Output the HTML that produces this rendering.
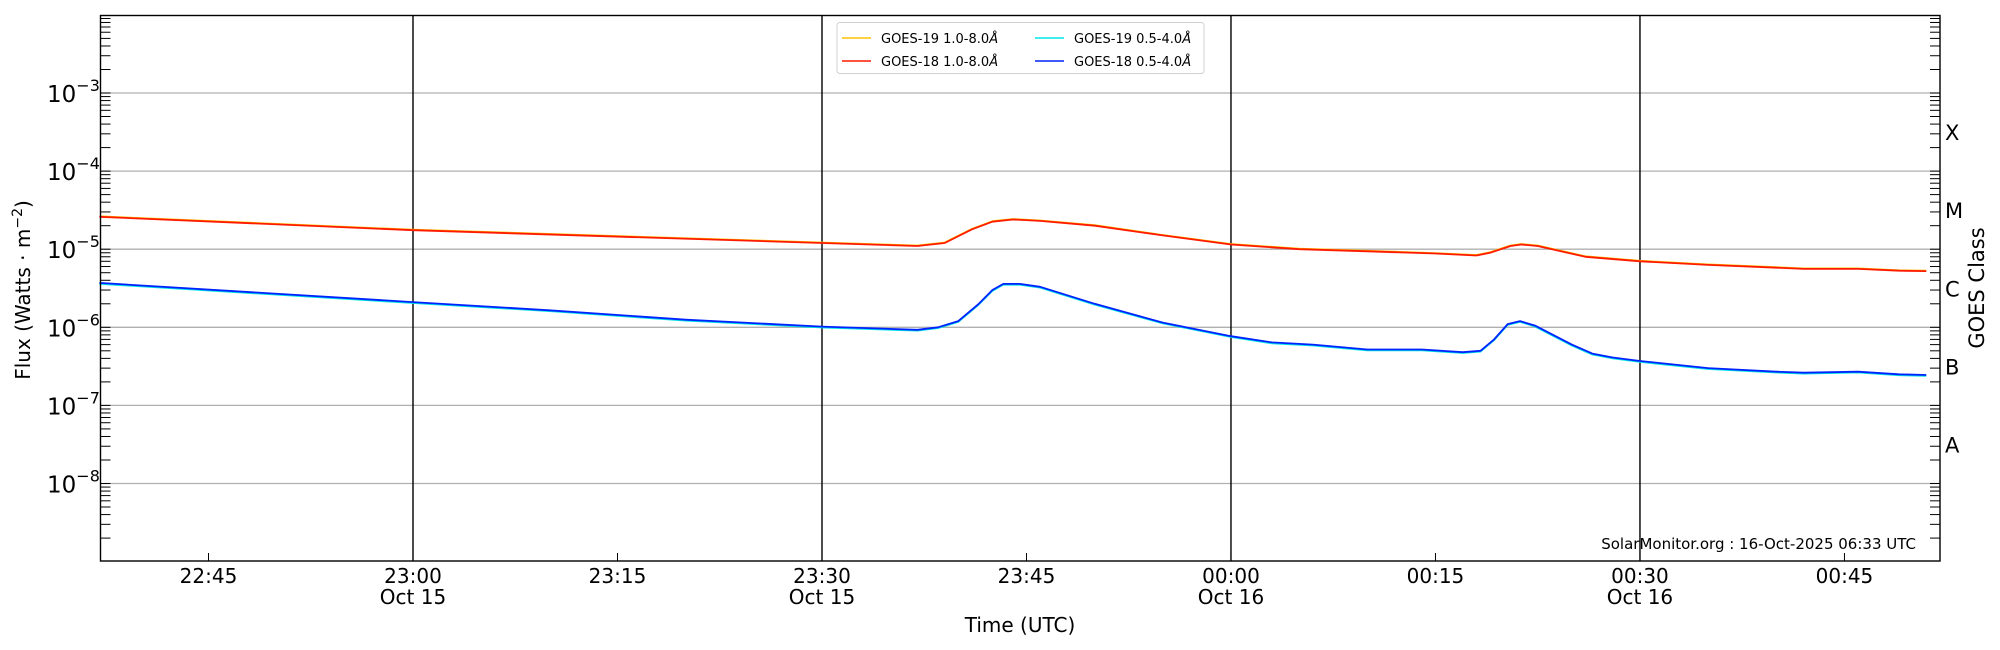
<!DOCTYPE html>
<html><head><meta charset="utf-8"><style>
html,body{margin:0;padding:0;background:#fff;}
svg{display:block;font-family:"DejaVu Sans","Liberation Sans",sans-serif;}
</style></head><body>
<svg id="s" width="2000" height="650" xmlns="http://www.w3.org/2000/svg"></svg>
<script>
const s=document.getElementById('s');
const L=100.5,R=1940,T=15.5,B=561;
const yOf=v=>93-(Math.log10(v)+3)*78.1;
const xOf=m=>413+m*13.633;
let h='';
for(let e=-3;e>=-8;e--){const y=yOf(Math.pow(10,e));h+=`<line x1="${L}" x2="${R}" y1="${y}" y2="${y}" stroke="#b0b0b0" stroke-width="1.3"/>`;}
[0,30,60,90].forEach(m=>{const x=xOf(m);h+=`<line x1="${x}" x2="${x}" y1="${T}" y2="${B}" stroke="#000" stroke-width="1.4"/>`;});
for(let e=-9;e<=-2;e++){for(let k=1;k<10;k++){const v=k*Math.pow(10,e);const y=yOf(v);if(y<T-0.5||y>B+0.5)continue;const len=10;
h+=`<line x1="${L}" x2="${L+len}" y1="${y}" y2="${y}" stroke="#000" stroke-width="1"/>`;
h+=`<line x1="${R}" x2="${R-len}" y1="${y}" y2="${y}" stroke="#000" stroke-width="1"/>`;}}
[-15,0,15,30,45,60,75,90,105].forEach(m=>{const x=xOf(m);h+=`<line x1="${x}" x2="${x}" y1="${B}" y2="${B-8}" stroke="#000" stroke-width="1"/>`;});
function path(pts,col,w){let d='';pts.forEach((p,i)=>{d+=(i?'L':'M')+xOf(p[0]).toFixed(1)+' '+yOf(p[1]).toFixed(1);});return `<path d="${d}" fill="none" stroke="${col}" stroke-width="${w}" stroke-linejoin="round"/>`;}
const red=[[-23,2.6e-5],[0,1.75e-5],[30,1.2e-5],[37,1.1e-5],[39,1.2e-5],[41,1.8e-5],[42.5,2.25e-5],[44,2.4e-5],[46,2.3e-5],[50,2e-5],[55,1.5e-5],[60,1.15e-5],[65,1.0e-5],[70,9.4e-6],[75,8.8e-6],[78,8.3e-6],[79,9e-6],[80.5,1.1e-5],[81.3,1.15e-5],[82.5,1.1e-5],[86,8e-6],[90,7e-6],[95,6.3e-6],[100,5.8e-6],[102,5.6e-6],[106,5.6e-6],[109,5.3e-6],[111,5.25e-6]];
const blue=[[-23,3.7e-6],[0,2.1e-6],[10,1.65e-6],[20,1.25e-6],[30,1.02e-6],[37,9.3e-7],[38.5,1e-6],[40,1.2e-6],[41.5,2e-6],[42.5,3e-6],[43.3,3.6e-6],[44.5,3.6e-6],[46,3.3e-6],[50,2e-6],[55,1.15e-6],[60,7.7e-7],[63,6.4e-7],[66,6e-7],[70,5.2e-7],[74,5.2e-7],[77,4.8e-7],[78.3,5e-7],[79.3,7e-7],[80.3,1.1e-6],[81.2,1.2e-6],[82.3,1.05e-6],[85,6e-7],[86.5,4.6e-7],[88,4.1e-7],[90,3.7e-7],[95,3e-7],[100,2.7e-7],[102,2.62e-7],[106,2.7e-7],[109,2.5e-7],[111,2.45e-7]];
h+=path(red.map(p=>[p[0],p[1]*1.02]),'#ffc000',1.4);
h+=path(red,'#ff1a00',1.8);
h+=path(blue.map(p=>[p[0],p[1]*0.97]),'#00e5e5',1.4);
h+=path(blue,'#0022ff',1.8);
h+=`<rect x="${L}" y="${T}" width="${R-L}" height="${B-T}" fill="none" stroke="#000" stroke-width="1.4"/>`;
const sup=['3','4','5','6','7','8'];
for(let i=0;i<6;i++){const y=yOf(Math.pow(10,-3-i));h+=`<text x="47" y="${y+9}" font-size="23">10<tspan font-size="16" dy="-11">−${sup[i]}</tspan></text>`;}
h+=`<text transform="translate(30,290) rotate(-90)" text-anchor="middle" font-size="20">Flux (Watts · m<tspan font-size="14" dy="-8">−2</tspan><tspan dy="8">)</tspan></text>`;
['X','M','C','B','A'].forEach((c,i)=>{const y=yOf(Math.pow(10,-3.5-i));h+=`<text x="1945" y="${y+8}" font-size="21">${c}</text>`;});
h+=`<text transform="translate(1984,288) rotate(-90)" text-anchor="middle" font-size="21">GOES Class</text>`;
const xl=[[-15,'22:45'],[0,'23:00','Oct 15'],[15,'23:15'],[30,'23:30','Oct 15'],[45,'23:45'],[60,'00:00','Oct 16'],[75,'00:15'],[90,'00:30','Oct 16'],[105,'00:45']];
xl.forEach(a=>{const x=xOf(a[0]);h+=`<text x="${x}" y="583" text-anchor="middle" font-size="20">${a[1]}</text>`;if(a[2])h+=`<text x="${x}" y="604" text-anchor="middle" font-size="20">${a[2]}</text>`;});
h+=`<text x="1020" y="632" text-anchor="middle" font-size="20">Time (UTC)</text>`;
h+=`<text x="1916" y="549" text-anchor="end" font-size="15">SolarMonitor.org : 16-Oct-2025 06:33 UTC</text>`;
h+=`<rect x="837" y="22.5" width="367" height="51" rx="3" fill="#fff" stroke="#d0d0d0"/>`;
const lg=[[842,38,'#ffc000','GOES-19 1.0-8.0'],[1035,38,'#00e5e5','GOES-19 0.5-4.0'],[842,61,'#ff1a00','GOES-18 1.0-8.0'],[1035,61,'#0022ff','GOES-18 0.5-4.0']];
lg.forEach(a=>{h+=`<line x1="${a[0]}" x2="${a[0]+29}" y1="${a[1]}" y2="${a[1]}" stroke="${a[2]}" stroke-width="1.5"/><text x="${a[0]+39}" y="${a[1]+5}" font-size="13">${a[3]}<tspan font-style="italic">Å</tspan></text>`;});
s.innerHTML=h;
</script>
</body></html>
